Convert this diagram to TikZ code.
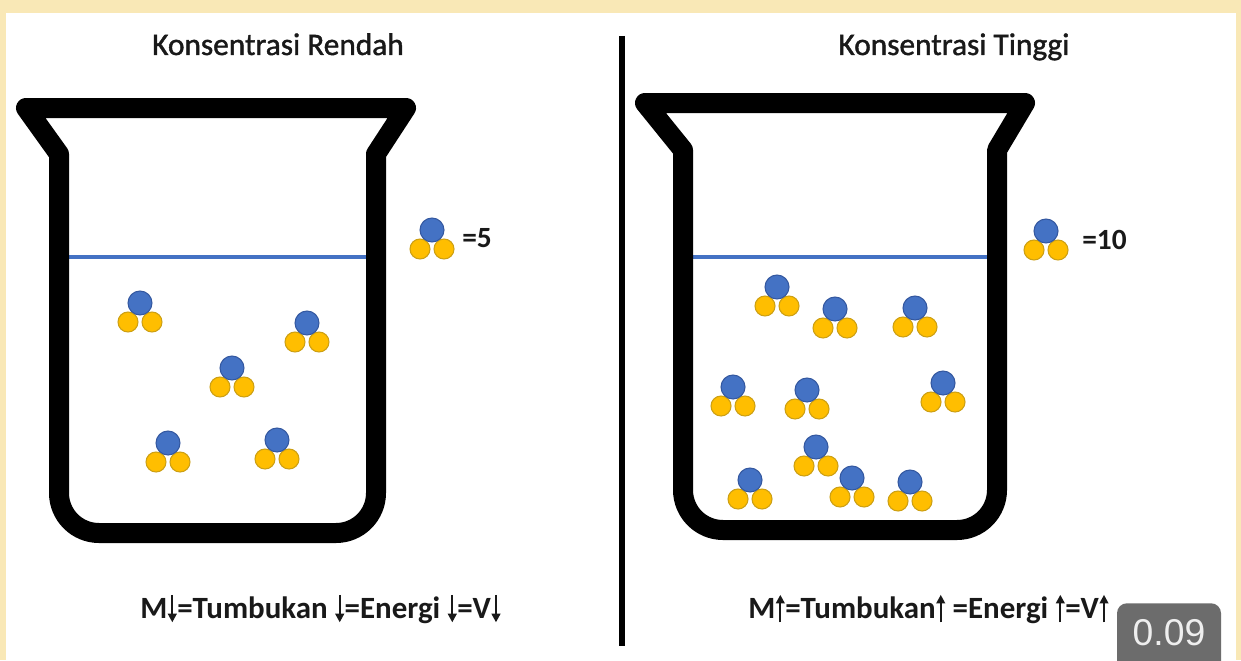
\documentclass[tikz,border=0pt]{standalone}
\usepackage{fontspec}
\setmainfont{Carlito}
\newfontfamily\titlefont[FakeBold=1.3]{Carlito}
\newfontfamily\badgefont{Liberation Sans}
\usepackage{tikz}
\usetikzlibrary{arrows.meta}

\definecolor{paper}{RGB}{249,232,182}
\definecolor{waterline}{RGB}{68,114,196}
\definecolor{atomblue}{RGB}{68,114,196}
\definecolor{atomblueedge}{RGB}{52,88,160}
\definecolor{atomgold}{RGB}{255,190,0}
\definecolor{atomgoldedge}{RGB}{205,160,20}
\definecolor{ink}{RGB}{25,25,25}
\definecolor{badgegray}{RGB}{108,108,108}

% small arrows inside the bottom lines
\newcommand{\dn}{\hspace{0.5pt}\tikz[baseline=0pt]
  \draw[ink, line width=1.6pt, -{Triangle[length=6.5pt,width=6.5pt]}] (0,0.75em) -- (0,-0.14em);\hspace{0.5pt}}
\newcommand{\up}{\hspace{0.5pt}\tikz[baseline=0pt]
  \draw[ink, line width=1.6pt, -{Triangle[length=6.5pt,width=6.5pt]}] (0,-0.14em) -- (0,0.75em);\hspace{0.5pt}}

\tikzset{
  beaker/.style={line width=15pt, line join=round, draw=black},
  water/.style={draw=waterline, line width=2.8pt},
  divider/.style={line width=3.8pt},
  title/.style={inner sep=0pt, text=ink, font=\titlefont\fontsize{23.5}{28}\selectfont},
  rule/.style={inner sep=0pt, text=ink, font=\bfseries\fontsize{23.2}{28}\selectfont},
  count/.style={inner sep=0pt, text=ink, font=\bfseries\fontsize{22}{26}\selectfont},
  centre atom/.style={fill=atomblue, draw=atomblueedge, line width=0.8pt},
  side atom/.style={fill=atomgold, draw=atomgoldedge, line width=0.8pt},
  molecule/.pic={
    \filldraw[side atom] (-12,19) circle[radius=10] (12,19) circle[radius=10];
    \filldraw[centre atom] (0,0) circle[radius=12];
  }
}

\begin{document}
\begin{tikzpicture}[x=0.75pt, y=-0.75pt]
  \useasboundingbox (0,0) rectangle (1241,660);
  \clip (0,0) rectangle (1241,660);
  \fill[paper] (0,0) rectangle (1241,660);
  \fill[white] (6,13) rectangle (1236,670);

  % titles
  \node[title, anchor=base] (titleL) at (278,55) {Konsentrasi Rendah};
  \node[title, anchor=base] (titleR) at (954,55) {Konsentrasi Tinggi};

  % divider
  \draw[divider] (622,36) -- (622,646);

  % liquid levels
  \draw[water] (68,257) -- (368,257);
  \draw[water] (692,257) -- (989,257);

  % beakers
  \draw[beaker] (26,108) -- (406,108) -- (376,154) [rounded corners=30pt]
    -- (376,533) -- (59,533) [sharp corners] -- (59,154) -- cycle;
  \draw[beaker] (645,103) -- (1025,103) -- (997,150) [rounded corners=30pt]
    -- (997,530) -- (683,530) [sharp corners] -- (683,150) -- cycle;

  % particles, low concentration
  \foreach \x/\y in {140/303, 307/323, 232/368, 168/443, 277/440}
    \pic at (\x,\y) {molecule};
  % particles, high concentration
  \foreach \x/\y in {777/287, 835/309, 915/308, 733/387, 807/390,
                     943/383, 816/447, 750/480, 852/478, 910/482}
    \pic at (\x,\y) {molecule};

  % legend
  \pic at (432,230) {molecule};
  \node[count, anchor=base west] (countL) at (462,247) {=5};
  \pic at (1046,231) {molecule};
  \node[count, anchor=base west] (countR) at (1082,249) {=10};

  % bottom lines
  \node[rule, anchor=base west] (ruleL) at (140,618)
    {M\dn=Tumbukan \dn=Energi \dn=V\dn};
  \node[rule, anchor=base west] (ruleR) at (748,618)
    {M\up=Tumbukan\up\ =Energi \up=V\up};

  % playback speed badge
  \node[fill=badgegray, rounded corners=7.5pt, anchor=north,
        minimum width=78pt, minimum height=52pt, inner sep=0pt] (speed) at (1169,603) {};
  \node[text={rgb,255:red,238;green,238;blue,238}, inner sep=0pt,
        font=\badgefont\fontsize{28}{32}\selectfont] (speedval) at (1169,633) {0.09};
\end{tikzpicture}
\end{document}
